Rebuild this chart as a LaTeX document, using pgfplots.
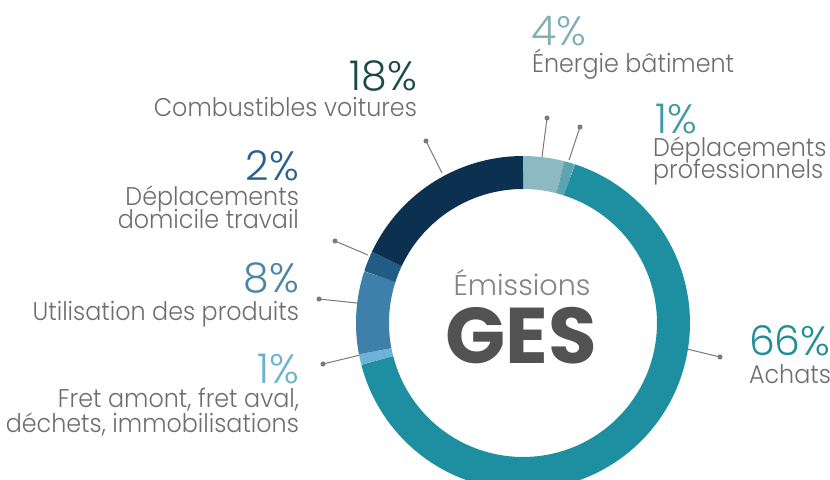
\documentclass[border=0pt]{standalone}
\usepackage{pgfplots}
\pgfplotsset{compat=1.18}
\usepackage{pgfplotstable}
\usepackage{fontspec}
\setmainfont{Poppins}[UprightFont=* Light, BoldFont=* Bold]
\newfontfamily\lblfont{Poppins}[UprightFont=* Light, FakeStretch=0.93]

% ring colours (clockwise from top)
\definecolor{c0}{HTML}{8DB9C2}
\definecolor{c1}{HTML}{5AA5B0}
\definecolor{c2}{HTML}{1E8FA0}
\definecolor{c3}{HTML}{6DB3D8}
\definecolor{c4}{HTML}{3F80AA}
\definecolor{c5}{HTML}{215C84}
\definecolor{c6}{HTML}{0B3050}
% percent label colours
\definecolor{p0}{HTML}{7FB0B3}
\definecolor{p1}{HTML}{3F9BA0}
\definecolor{p2}{HTML}{1E8F96}
\definecolor{p3}{HTML}{6AB2D0}
\definecolor{p4}{HTML}{4A85A5}
\definecolor{p5}{HTML}{2A6090}
\definecolor{p6}{HTML}{1B4A46}
\definecolor{txt}{HTML}{6E6E6E}
\definecolor{lead}{HTML}{7A7A7A}

\pgfplotstableread{
share
4
1
66
1
8
2
18
}\sharetab

\newcommand\pct{\fontsize{20.5}{24}\selectfont}
\newcommand\lbl{\lblfont\fontsize{12.8}{16}\selectfont}

\begin{document}
\begin{tikzpicture}
\begin{axis}[
  scale only axis, width=415pt, height=239.5pt,
  xmin=0, xmax=830, ymin=0, ymax=479, y dir=reverse,
  hide axis, clip=true,
  every node/.append style={inner sep=0pt},
]
% leader lines
\pgfplotsset{leader/.style={draw=lead, line width=0.5pt, mark=*, mark size=1pt, mark indices={2}, mark options={fill=lead, draw=lead}}}
\addplot[leader] coordinates {(542,157) (547,118)};
\addplot[leader] coordinates {(569,160) (580,127)};
\addplot[leader] coordinates {(683,348) (720,357)};
\addplot[leader] coordinates {(442,173) (426,141)};
\addplot[leader] coordinates {(368,255) (335,241)};
\addplot[leader] coordinates {(357,303) (319,299)};
\addplot[leader] coordinates {(360,355) (323,364)};

% ring
\def\cum{0}
\pgfplotsforeachungrouped \i in {0,...,6}{%
  \pgfplotstablegetelem{\i}{share}\of\sharetab
  \let\vv\pgfplotsretval
  \pgfmathsetmacro\angA{90-3.6*\cum}%
  \pgfmathsetmacro\angB{90-3.6*(\cum+\vv)}%
  \pgfmathsetmacro\cum{\cum+\vv}%
  \edef\tmp{\noexpand\addplot[draw=c\i, line width=16.5pt, line cap=butt, domain=\angB:\angA, samples=90] ({523+150.5*cos(x)},{323-150.5*sin(x)});}%
  \tmp
}

% centre text
\node[anchor=base, text=txt!85, font=\fontsize{14.3}{16}\selectfont] at (axis cs:522,295) {Émissions};
\node[anchor=base, text=black!68, font=\fontsize{39.5}{42}\selectfont\bfseries] at (axis cs:521.5,363) {GES};

% right labels
\node[anchor=base west, text=p0, font=\pct] at (axis cs:524,45) {4\%};
\node[anchor=base west, text=txt, font=\lbl] at (axis cs:525,72) {Énergie bâtiment};
\node[anchor=base west, text=p1, font=\pct] at (axis cs:648,133) {1\%};
\node[anchor=base west, text=txt, font=\lbl] at (axis cs:646,156) {Déplacements};
\node[anchor=base west, text=txt, font=\lbl] at (axis cs:646,178) {professionnels};
\node[anchor=base west, text=p2, font=\pct] at (axis cs:742,355) {66\%};
\node[anchor=base west, text=txt, font=\lbl] at (axis cs:742,383) {Achats};

% left labels
\node[anchor=base east, text=p6, font=\pct] at (axis cs:424,90) {18\%};
\node[anchor=base east, text=txt, font=\lbl] at (axis cs:424,116) {Combustibles voitures};
\node[anchor=base east, text=p5, font=\pct] at (axis cs:306,180) {2\%};
\node[anchor=base east, text=txt, font=\lbl] at (axis cs:306,205) {Déplacements};
\node[anchor=base east, text=txt, font=\lbl] at (axis cs:306,228) {domicile travail};
\node[anchor=base east, text=p4, font=\pct] at (axis cs:306,292) {8\%};
\node[anchor=base east, text=txt, font=\lbl] at (axis cs:306,320) {Utilisation des produits};
\node[anchor=base east, text=p3, font=\pct] at (axis cs:306,383) {1\%};
\node[anchor=base east, text=txt, font=\lbl] at (axis cs:306,407) {Fret amont, fret aval,};
\node[anchor=base east, text=txt, font=\lbl] at (axis cs:306,432) {déchets, immobilisations};
\end{axis}
\pgfresetboundingbox
\useasboundingbox (0,0) rectangle (415pt,239.5pt);
\end{tikzpicture}
\end{document}
